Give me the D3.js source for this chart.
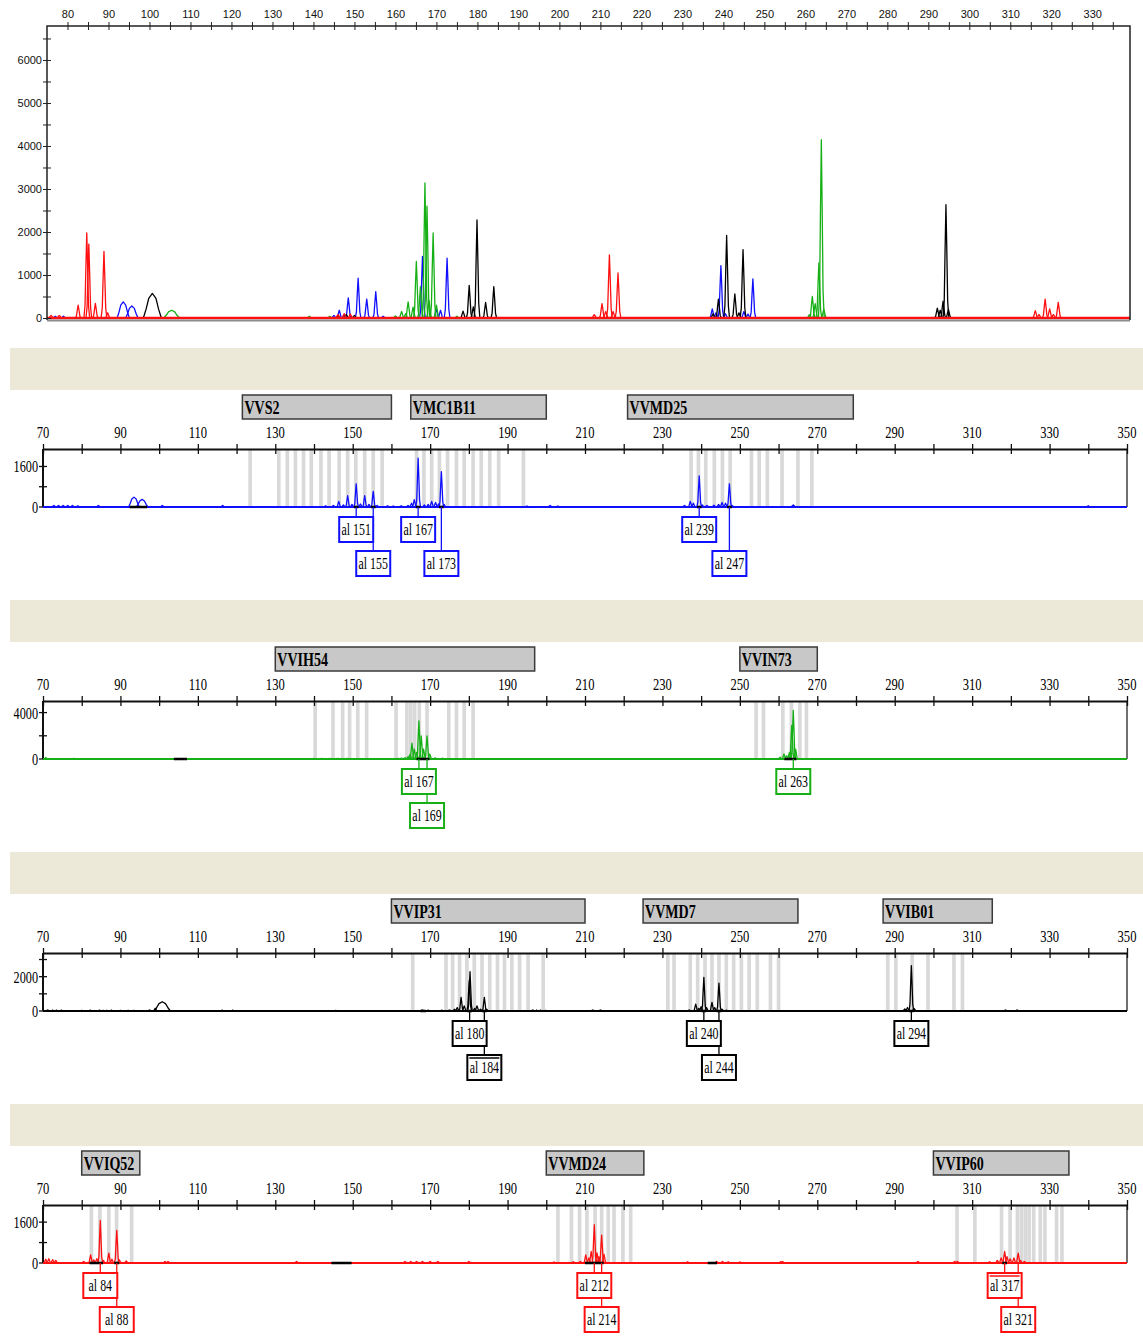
<!DOCTYPE html>
<html>
<head>
<meta charset="utf-8">
<script src="https://cdn.jsdelivr.net/npm/d3@7"></script>
<style>
body { margin: 0; background: #fff; }
svg { display: block; }
</style>
</head>
<body>
<svg id="chart" width="1143" height="1344"></svg>
<script>
// ---------- overview (all dyes) : [size bp, height rfu, optional half width bp]
var overviewBlue = [[77,40],[79,40],[93.6,375,1.5],[95.7,280,1.5],[145,60],[146.3,180],[147.5,80],[148.5,470],
  [150.9,924],[153,440],[155.2,610],[157,40],[166.6,1430],[170,220],[171,180],[172.6,1390],
  [237.3,210],[238.2,120],[239.4,1217],[240.5,100],[245,150],[246,90],[247.2,907]];
var overviewGreen = [[105.4,180,1.9],[139,40],[144,40],[160,50],[161.5,150],[162.5,100],[163.1,376],[164.3,250],
  [165.1,1315],[166.1,730],[167.2,3140],[167.7,2600],[168.2,410],[169.2,1980],[170,300],[175,40],
  [261,80],[261.7,504],[262.4,333],[263.3,1280],[263.9,4150],[264.5,200]];
var overviewBlack = [[100.7,570,2.2],[146,60],[148,80],[150,60],[176.5,160],[178,760],[179,260],[179.9,2280],
  [182,360],[184,730],[237.5,100],[238.8,440],[240.8,1920],[242.8,560],[243.8,120],[244.8,1590],
  [292.2,230],[292.9,180],[293.6,390],[294.3,2635],[294.9,200]];
var overviewRed = [[76,60],[78,60],[82.6,300],[84.7,1980],[85.2,1720],[86.8,340],[88.9,1550],[89.8,120],
  [146,80],[147.5,100],[149,90],[208.5,80],[210.4,333],[211.3,150],[212.2,1470],[213.1,150],[214.3,1046],
  [316.1,170],[317,80],[318.5,440],[319.6,210],[320.5,80],[321.7,365]];
var overviewSizeTicks = d3.range(80, 336, 5);
var overviewCountTicks = d3.range(0, 6501, 500);

// ---------- per-dye panels
var markersBlue = [["VVS2",121.5,160],["VMC1B11",165,200],["VVMD25",221,279.3]];
var markersGreen = [["VVIH54",130,197],["VVIN73",250,270]];
var markersBlack = [["VVIP31",160,210],["VVMD7",225,265],["VVIB01",287,315.2]];
var markersRed = [["VVIQ52",80,95],["VVMD24",200,225.2],["VVIP60",300,335]];

var binsBlue = [123.5,130.9,133.1,135.2,137.3,139.3,141.8,143.9,146.5,148.7,150.8,153.1,155.3,157.6,
  166.5,168.4,170.4,172.4,174.5,176.8,178.8,181.1,183.2,185.4,187.7,194.1,
  237.4,239.3,241.2,243.4,245.5,247.5,253.0,255.0,257.1,260.9,265.0,268.6];
var binsGreen = [140.3,144.9,147.4,149.2,151.3,153.6,161.2,164,165,166,167.2,169.2,174.8,176.8,178.8,181.1,
  254.2,256.1,261.1,263.3,265.5,267.2];
var binsBlack = [165.5,174.1,175.8,177.6,179.5,181.4,183.4,185.4,187.4,189.2,191.1,193.1,195.3,199.2,
  231.4,233.0,237.2,239.1,241.0,242.8,244.6,246.5,248.4,250.4,252.4,254.5,257.9,260.0,
  288.2,290.3,294.5,298.6,305.3,307.5];
var binsRed = [82.5,84.7,87.0,89.0,92.9,203.0,206.5,208.6,210.5,212.6,214.3,216.0,217.5,219.8,221.8,
  306.1,310.7,317.6,319.8,321.7,322.7,323.7,324.7,325.9,327.6,328.8,331.8,333.2];

var peaksBlue = [[72.8,60],[74,60],[75.2,60],[76.4,60],[77.6,60],[79,50],[84.3,60],[93.5,390,1.4],[95.6,300,1.5],
  [100.8,60],[116.4,60],[143,50],[145,60],[146.4,220],[147.6,80],[148.7,445],[149.8,100],[150.9,917],
  [152,120],[153.1,445],[154.2,100],[155.3,616],[156.3,60],[159,50],[160.5,40],[162.5,50],[164.3,60],
  [165.2,150],[165.9,288],[166.9,1925],[168.5,80],[169.5,100],[170.4,220],[171.4,180],[172.2,120],
  [172.9,1400],[173.6,100],[195,40],[201,60],[203,40],[235.7,60],[237.2,220],[238,150],[239.5,1230],
  [240.3,80],[241.5,60],[243.3,70],[244.5,100],[245.4,180],[246.3,150],[247.3,917],[248,60],
  [263.8,80,0.8],[340,50]];
var peaksGreen = [[70.7,120],[78,60],[140,50],[142,50],[144,50],[146.2,50],[148.5,60],[160,40],[161.8,60],
  [162.6,80],[163.5,110],[164.3,200],[164.8,400],[165.3,1370],[165.9,860],[166.5,570],[167.1,3285],
  [167.7,2000],[168.3,860],[169.2,2000],[169.9,430],[171.3,100],[173.2,70],[260.4,150],[261.4,430],
  [262.1,280],[262.8,570],[263.4,2900],[263.8,4200],[264.4,850]];
var peaksBlack = [[71.2,60],[72.5,50],[73.5,50],[74.8,50],[80,40],[82.2,50],[84.6,50],[85.5,40],[86.5,40],
  [87.7,50],[90,40],[92,40],[93.5,40],[97.5,60],[99,150],[100.8,540,2.1],[116.3,50],[119,50],[145.6,40],
  [168,60],[169.5,50],[173,50],[175,60],[176.3,100],[177,200],[178,795],[178.8,300],[180.1,1765],
  [180.3,2290],[181.5,150],[182.1,300],[183,100],[184,795],[184.6,100],[196.5,60],[197.5,50],[198.5,50],
  [199.8,40],[212,60],[214,60],[236.9,60],[238.6,400],[239.4,150],[240,250],[240.7,1960],[241.4,200],
  [242.8,500],[243.5,200],[244.6,1630],[245.4,100],[246.5,50],[292.6,120],[293.3,200],[294.3,2640],
  [295,150],[318.6,60],[321.6,60]];
var peaksRed = [[70.7,150],[71.5,170],[72.5,130],[73.3,100],[80.5,60],[82.3,320],[83.1,120],[83.9,170],
  [84.8,1664],[85.6,100],[87,384],[87.8,150],[89.05,1280],[89.7,120],[91.5,80],[101.5,60],[102.3,60],
  [135.5,60],[163.5,60],[165,60],[166.5,60],[168,60],[170,60],[172,60],[180,60],[202,40],[207,50],
  [208.8,60],[210.2,320],[211,200],[211.6,450],[212.4,1500],[213.1,400],[213.6,250],[214.3,1090],
  [214.9,350],[236.5,50],[244,60],[245.5,60],[247,50],[250,40],[260.5,50],[261,60],[296,60],[305.5,60],
  [306.2,60],[314.5,50],[316.5,100],[317.5,200],[318.4,450],[319,250],[319.8,160],[320.8,200],
  [321.9,384],[322.5,100],[323.5,60]];

// baseline marks drawn in black [from bp, to bp]
var marksBlue = [[92.4,96.9],[150.3,151.5],[154.7,155.9],[166.3,167.5],[172.3,173.5],[238.9,240.1],[246.7,247.9]];
var marksGreen = [[103.8,107.2],[166.5,169.8],[261.5,264.6]];
var marksBlack = [[167.4,168.9],[179.5,180.8],[183.4,184.6],[240.1,241.3],[244,245.2],[293.7,294.9]];
var marksRed = [[82,85.5],[88.4,89.7],[144.5,149.7],[210,214.8],[241.7,244.1],[317.8,319]];

// allele calls: [label, peak bp, row, double top line]
var allelesBlue = [["al 151",150.9,0],["al 155",155.3,1],["al 167",166.9,0],["al 173",172.9,1],["al 239",239.5,0],["al 247",247.3,1]];
var allelesGreen = [["al 167",167.1,0],["al 169",169.2,1],["al 263",263.8,0]];
var allelesBlack = [["al 180",180.2,0],["al 184",184,1,true],["al 240",240.7,0],["al 244",244.6,1],["al 294",294.3,0]];
var allelesRed = [["al 84",84.8,0],["al 88",89.05,1],["al 212",212.4,0],["al 214",214.3,1],["al 317",318.4,0,true],["al 321",321.9,1]];

var panelMax = [2290, 5000, 3380, 2270];
var panelYTicks = [[0,800,1600],[0,2000,4000],[0,1000,2000,3000],[0,800,1600]];
var panelYLabels = [[0,1600],[0,4000],[0,2000],[0,1600]];
var panelSizeTicks = d3.range(70, 351, 10);

var dyeColors = {blue: "#1010ff", green: "#16b016", black: "#000000", red: "#ff1010"};

var svg = d3.select("#chart");
// narrow peaks are pointed, broad ones (w >= 1.2) rounded
var spike = [[-1,0],[-0.6,0.15],[-0.3,0.6],[0,1],[0.3,0.6],[0.6,0.15],[1,0]];
var hump = [[-1,0],[-0.7,0.35],[-0.4,0.8],[0,1],[0.4,0.8],[0.7,0.35],[1,0]];
var serif = "'Liberation Serif','Times New Roman',serif";

function condText(g, x, y, str, size, weight, anchor, sx) {
  return g.append("text")
    .attr("transform", "translate(" + x + "," + y + ") scale(" + (sx || 0.72) + ",1)")
    .attr("font-family", serif).attr("font-size", size).attr("font-weight", weight || "normal")
    .attr("text-anchor", anchor || "start").attr("fill", "#000").text(str);
}

function drawPeaks(g, peaks, x, y, color, sw, w0) {
  var line = d3.line().x(function(d) { return x(d[0]); }).y(function(d) { return y(d[1]); });
  g.selectAll(null).data(peaks).enter().append("path")
    .attr("d", function(p) {
      var w = p[2] || w0;
      var shape = w >= 1.2 ? hump : spike;
      return line(shape.map(function(s) { return [p[0] + s[0] * w, p[1] * s[1]]; }));
    })
    .attr("fill", "none").attr("stroke", color).attr("stroke-width", sw).attr("stroke-linejoin", "round");
}

// ************** overview plot *****************
var tx = d3.scaleLinear().domain([75, 339.2]).range([47, 1130]);
var ty = d3.scaleLinear().domain([0, 6790]).range([318, 26]);

svg.append("clipPath").attr("id", "clipTop").append("rect")
  .attr("x", 47).attr("y", 26).attr("width", 1083).attr("height", 294);

var gTop = svg.append("g");
var gTraces = gTop.append("g").attr("clip-path", "url(#clipTop)");
[["blue", overviewBlue], ["green", overviewGreen], ["black", overviewBlack], ["red", overviewRed]].forEach(function(d) {
  gTraces.append("line").attr("x1", 47).attr("x2", 1130).attr("y1", ty(0)).attr("y2", ty(0))
    .attr("stroke", dyeColors[d[0]]).attr("stroke-width", d[0] === "red" ? 2.5 : 1.5);
  drawPeaks(gTraces, d[1], tx, ty, dyeColors[d[0]], 1.3, 0.7);
});

gTop.append("line").attr("x1", 47).attr("x2", 1130).attr("y1", 320.5).attr("y2", 320.5)
  .attr("stroke", "#8c8c8c").attr("stroke-width", 2);
gTop.append("path").attr("d", "M47,320V26H1130V320").attr("fill", "none").attr("stroke", "#222").attr("stroke-width", 1.5);

var gx = gTop.append("g").attr("transform", "translate(0,26)")
  .call(d3.axisTop(tx).tickValues(overviewSizeTicks).tickSize(4).tickSizeOuter(0)
    .tickFormat(function(d) { return d % 10 === 0 ? d : ""; }));
gx.select(".domain").remove();
gx.selectAll(".tick line").attr("y1", 4).attr("stroke", "#222");
gx.selectAll("text").attr("font-family", "'Liberation Sans',Arial,sans-serif").attr("font-size", 11)
  .attr("y", -8).attr("dy", 0).attr("fill", "#111");

var gy = gTop.append("g").attr("transform", "translate(47,0)")
  .call(d3.axisLeft(ty).tickValues(overviewCountTicks).tickSize(4).tickSizeOuter(0)
    .tickFormat(function(d) { return d % 1000 === 0 ? d : ""; }));
gy.select(".domain").remove();
gy.selectAll(".tick line").attr("x1", 4).attr("stroke", "#222");
gy.selectAll("text").attr("font-family", "'Liberation Sans',Arial,sans-serif").attr("font-size", 11)
  .attr("x", -5).attr("dy", "0.35em").attr("fill", "#111");

// ************** dye panels *****************
var px = d3.scaleLinear().domain([70, 350]).range([43, 1127]);
var panels = [
  {dye: "blue", markers: markersBlue, bins: binsBlue, peaks: peaksBlue, marks: marksBlue, alleles: allelesBlue},
  {dye: "green", markers: markersGreen, bins: binsGreen, peaks: peaksGreen, marks: marksGreen, alleles: allelesGreen},
  {dye: "black", markers: markersBlack, bins: binsBlack, peaks: peaksBlack, marks: marksBlack, alleles: allelesBlack},
  {dye: "red", markers: markersRed, bins: binsRed, peaks: peaksRed, marks: marksRed, alleles: allelesRed}
];

panels.forEach(function(p, i) {
  var top = 348 + i * 252;
  var axisY = top + 101, base = top + 159;
  var color = dyeColors[p.dye];
  var py = d3.scaleLinear().domain([0, panelMax[i]]).range([base, axisY]);
  var g = svg.append("g");

  g.append("rect").attr("x", 10).attr("y", top).attr("width", 1133).attr("height", 42).attr("fill", "#ECE9D8");

  // marker ranges
  p.markers.forEach(function(m) {
    g.append("rect").attr("x", px(m[1])).attr("y", top + 47).attr("width", px(m[2]) - px(m[1])).attr("height", 24)
      .attr("fill", "#C8C8C8").attr("stroke", "#3a3a3a").attr("stroke-width", 1.5);
    condText(g, px(m[1]) + 2, top + 66, m[0], 18, "bold", "start", 0.78);
  });

  // bins
  g.selectAll(null).data(p.bins).enter().append("rect")
    .attr("x", function(d) { return px(d - 0.47); })
    .attr("width", function(d) { return px(d + 0.47) - px(d - 0.47); })
    .attr("y", axisY).attr("height", base - axisY).attr("fill", "#D9D9D9");

  // size axis
  var ax = g.append("g").attr("transform", "translate(0," + axisY + ")")
    .call(d3.axisTop(px).tickValues(panelSizeTicks).tickSize(5).tickSizeOuter(0).tickFormat(""));
  ax.select(".domain").attr("stroke", "#111").attr("stroke-width", 2);
  ax.selectAll(".tick line").attr("y1", 5).attr("stroke", "#111").attr("stroke-width", 1.3);
  panelSizeTicks.filter(function(d) { return (d - 70) % 20 === 0; }).forEach(function(d) {
    condText(g, px(d), axisY - 11, d, 17.5, "normal", "middle", 0.72);
  });

  // intensity axis
  g.append("line").attr("x1", 43).attr("x2", 43).attr("y1", axisY).attr("y2", base).attr("stroke", "#111").attr("stroke-width", 2);
  g.append("line").attr("x1", 1127).attr("x2", 1127).attr("y1", axisY).attr("y2", base).attr("stroke", "#111").attr("stroke-width", 1.2);
  panelYTicks[i].forEach(function(t) {
    g.append("line").attr("x1", 39).attr("x2", 47).attr("y1", py(t)).attr("y2", py(t)).attr("stroke", "#111").attr("stroke-width", 1.3);
  });
  panelYLabels[i].forEach(function(t) {
    condText(g, 38, py(t) + 6, t, 17, "normal", "end", 0.72);
  });

  // trace
  g.append("line").attr("x1", 43).attr("x2", 1127).attr("y1", base).attr("y2", base).attr("stroke", color).attr("stroke-width", 2);
  drawPeaks(g, p.peaks, px, py, color, 1.3, 0.6);
  p.marks.forEach(function(m) {
    g.append("line").attr("x1", px(m[0])).attr("x2", px(m[1])).attr("y1", base).attr("y2", base)
      .attr("stroke", "#000").attr("stroke-width", 2.5);
  });

  // allele calls
  var bw = 34, bh = 25;
  p.alleles.forEach(function(a) {
    var cx = px(a[1]);
    var by = a[2] === 0 ? base + 10 : base + 44;
    g.append("line").attr("x1", cx).attr("x2", cx).attr("y1", base).attr("y2", by).attr("stroke", color).attr("stroke-width", 1.3);
  });
  p.alleles.forEach(function(a) {
    var cx = px(a[1]);
    var by = a[2] === 0 ? base + 10 : base + 44;
    g.append("rect").attr("x", cx - bw / 2).attr("y", by).attr("width", bw).attr("height", bh)
      .attr("fill", "#fff").attr("stroke", color).attr("stroke-width", 2);
    if (a[3]) {
      g.append("line").attr("x1", cx - bw / 2 + 2).attr("x2", cx + bw / 2 - 2).attr("y1", by + 3).attr("y2", by + 3)
        .attr("stroke", color).attr("stroke-width", 1.5);
    }
    condText(g, cx, by + 18, a[0], 17, "normal", "middle", 0.7);
  });
});
</script>
</body>
</html>
